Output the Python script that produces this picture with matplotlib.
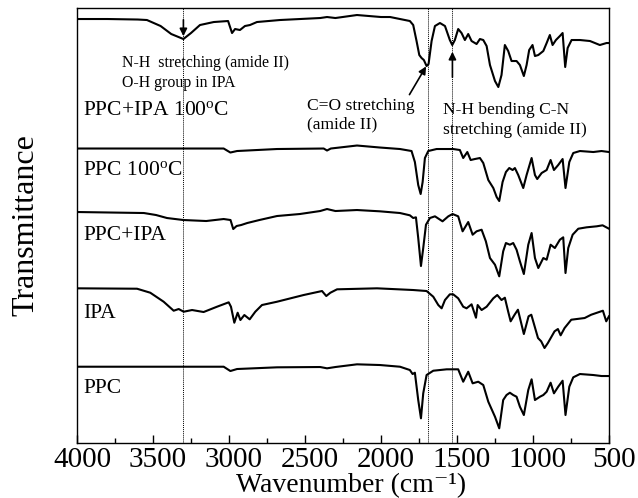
import matplotlib.pyplot as plt
from matplotlib.ticker import MultipleLocator
from matplotlib.transforms import ScaledTranslation

plt.rcParams['font.family'] = ['Liberation Serif', 'DejaVu Serif']
plt.rcParams['mathtext.fontset'] = 'custom'
plt.rcParams['mathtext.rm'] = 'Liberation Serif'
plt.rcParams['mathtext.it'] = 'Liberation Serif:italic'

# FTIR spectra, transmittance (a.u.) relative to each trace's own baseline
wn_ppc_ipa_100 = [4000, 3800, 3600, 3540, 3450, 3380, 3300, 3250, 3191, 3100,
                  3006, 2980, 2960, 2928, 2895, 2862, 2816, 2665, 2400, 2355,
                  2300, 2158, 2000, 1940, 1875, 1810, 1788, 1766, 1748, 1733,
                  1718, 1700, 1687, 1667, 1645, 1612, 1579, 1547, 1531, 1514,
                  1492, 1470, 1448, 1426, 1404, 1371, 1349, 1327, 1305, 1283,
                  1250, 1228, 1207, 1185, 1163, 1141, 1108, 1086, 1060, 1042,
                  1025, 1003, 987, 965, 932, 910, 889, 871, 849, 823,
                  805, 788, 772, 746, 691, 625, 560, 516, 500]
t_ppc_ipa_100 = [0, 0, -0.5, -1, -7, -15, -20, -14, -6, -3,
                 -2, -14, -10, -11, -7, -6, -3, -1, 1, 2,
                 1, 4, 2, 2, 0, -2, -6, -22, -36, -39,
                 -41, -47, -45, -22, -7, -4, -7, -21, -26, -21,
                 -10, -14, -21, -15, -22, -25, -20, -21, -27, -46,
                 -62, -68, -56, -26, -32, -42, -42, -46, -57, -46,
                 -31, -26, -37, -36, -32, -24, -16, -26, -21, -17,
                 -14, -48, -29, -21, -21, -22, -26, -24, -24]

wn_ppc_100 = [4000, 3300, 3035, 2991, 2947, 2684, 2377, 2355, 2330, 2158,
              2007, 1875, 1799, 1777, 1755, 1739, 1726, 1711, 1689, 1634,
              1525, 1481, 1459, 1432, 1410, 1382, 1349, 1327, 1294, 1261,
              1239, 1222, 1200, 1178, 1156, 1134, 1119, 1097, 1064, 1042,
              1009, 987, 972, 943, 910, 884, 862, 834, 805, 786,
              761, 735, 691, 603, 549, 500]
t_ppc_100 = [0.5, 0.5, 0.5, -3.5, -2, 0, 0.5, -1.5, 0.5, 3.5,
             1.5, 0, -2, -13, -36, -45, -33, -9, -2, 0,
             0, -1, -9, -3, -11, -10, -9, -14, -31, -39,
             -48, -52, -33, -23, -19, -21, -19, -26, -39, -26,
             -9, -26, -30, -24, -21, -11, -21, -16, -10, -39,
             -13, -4, -2, -3, -2, -3]

wn_ppc_ipa = [4000, 3560, 3480, 3408, 3300, 3150, 3035, 2990, 2972, 2950,
              2920, 2880, 2800, 2684, 2534, 2400, 2355, 2300, 2158, 2007,
              1875, 1810, 1788, 1770, 1755, 1737, 1722, 1704, 1678, 1645,
              1595, 1557, 1529, 1492, 1463, 1426, 1397, 1371, 1338, 1310,
              1283, 1250, 1222, 1196, 1178, 1152, 1130, 1108, 1086, 1060,
              1031, 1009, 987, 965, 932, 910, 884, 856, 823, 801,
              786, 768, 739, 702, 647, 581, 542, 500]
t_ppc_ipa = [0, -1, -3, -6, -8, -9, -7, -8, -17, -14,
             -13, -11, -8, -4, -2, 1, 3, 1, 2, 0.7,
             -1, -3.3, -6, -5.3, -26, -54, -36, -12.7, -6, -4.3,
             -9.3, -4.3, -2, -4.3, -19.3, -10, -22.7, -19.3, -17.7, -29.3,
             -46, -52.7, -64.3, -39.3, -31, -32.7, -31, -37.7, -49.3, -62,
             -32.7, -21, -46, -56, -46, -47.7, -32.7, -36, -27.7, -25.3,
             -61, -36, -22.7, -16.7, -15.3, -14.3, -13.3, -16.7]

wn_ipa = [4000, 3605, 3518, 3430, 3364, 3331, 3298, 3243, 3167, 3079,
          3002, 2987, 2965, 2943, 2925, 2899, 2864, 2827, 2783, 2684,
          2509, 2388, 2360, 2333, 2289, 2026, 1788, 1700, 1656, 1623,
          1601, 1579, 1547, 1525, 1492, 1459, 1437, 1404, 1375, 1364,
          1338, 1305, 1261, 1235, 1207, 1185, 1163, 1147, 1121, 1099,
          1060, 1029, 1011, 967, 946, 924, 902, 858, 836, 818,
          792, 748, 660, 617, 540, 518, 500]
t_ipa = [0.7, 0.3, -3.7, -12.7, -21.7, -20, -22.7, -21, -23, -17.7,
         -13.3, -17.7, -33.7, -23.7, -31, -26, -30.3, -22.7, -16, -12.7,
         -6, -2, -7, -3.7, -0.3, 0.7, -1, -2, -7.7, -16,
         -19.3, -11, -5.3, -5.3, -9.3, -17.7, -19.3, -15.3, -28.7, -16,
         -21, -17.7, -9.3, -6, -11, -8.7, -22.7, -32.3, -25.7, -20.7,
         -45, -27.3, -25.7, -49, -52.3, -59, -54, -42.3, -40, -46.3,
         -39, -30.7, -29, -25.7, -21.7, -32.3, -27.3]

wn_ppc = [4000, 3035, 2991, 2947, 2684, 2400, 2355, 2300, 2158, 2007,
          1875, 1810, 1792, 1777, 1755, 1737, 1722, 1700, 1656, 1568,
          1492, 1459, 1426, 1397, 1360, 1327, 1294, 1250, 1222, 1196,
          1174, 1152, 1130, 1108, 1086, 1060, 1031, 1009, 987, 954,
          932, 910, 884, 862, 834, 805, 786, 761, 735, 691,
          603, 549, 500]
t_ppc = [-0.7, -0.7, -5, -3, -1.3, -1, -2.3, -1, 1.7, 1,
         -0.7, -4, -8, -6.7, -34, -52.3, -27.3, -9, -4.7, -3.3,
         -3.3, -15.7, -5.7, -17.3, -15.7, -19, -35.7, -50.7, -62.3, -34,
         -29, -26.7, -29, -30.7, -40.7, -49, -24, -13.3, -34, -30.7,
         -29, -25.7, -16.7, -27.3, -20.7, -14.7, -49, -20.7, -11.3, -8,
         -9, -10, -10]

names = ['PPC', 'IPA', 'PPC+IPA', 'PPC 100$^{\\rm o}$C', 'PPC+IPA 100$^{\\rm o}$C']
spectra = [(wn_ppc, t_ppc), (wn_ipa, t_ipa), (wn_ppc_ipa, t_ppc_ipa),
           (wn_ppc_100, t_ppc_100), (wn_ppc_ipa_100, t_ppc_ipa_100)]
offsets = [77, 154, 231, 294, 424]
label_y = [55, 130, 208, 273, 333]

marker_lines = [3300, 1690, 1530]

fig = plt.figure(figsize=(6.38, 4.98), dpi=100)
ax = fig.add_axes([0.1207, 0.1104, 0.8338, 0.8735])

for (wn, t), off in zip(spectra, offsets):
    ax.plot(wn, [off + v for v in t], color='black', lw=1.5)

for name, y in zip(names, label_y):
    ax.text(3960, y, name, fontsize=15.5, va='center', ha='left')

for w in marker_lines:
    ax.axvline(w, color='black', lw=0.7, ls=(0, (1, 1)))

# annotations
ax.text(3705, 380, 'N-H  stretching (amide II)', fontsize=11.4, va='center')
ax.text(3705, 360, 'O-H group in IPA', fontsize=11.4, va='center')
ax.text(2490, 328, 'C=O stretching\n(amide II)', fontsize=12.6, va='center',
        linespacing=1.15)
ax.text(1590, 323, 'N-H bending C-N\nstretching (amide II)', fontsize=12.6,
        va='center', linespacing=1.3)

arrow = dict(arrowstyle='-|>', color='black', lw=1.2, mutation_scale=11)
ax.annotate('', xy=(3300, 404), xytext=(3300, 426), arrowprops=arrow)
ax.annotate('', xy=(1694, 379), xytext=(1822, 346), arrowprops=arrow)
ax.annotate('', xy=(1530, 394), xytext=(1530, 363), arrowprops=arrow)

ax.set_xlim(4000, 500)
ax.set_ylim(0, 435)
ax.xaxis.set_major_locator(MultipleLocator(500))
ax.xaxis.set_minor_locator(MultipleLocator(250))
ax.tick_params(axis='x', which='both', direction='in', top=False, labelsize=21, pad=3)
ax.tick_params(axis='x', which='major', length=6, width=1)
ax.tick_params(axis='x', which='minor', length=3.5, width=1)
ax.set_yticks([])
for s in ax.spines.values():
    s.set_linewidth(1.0)

# tick labels sit a little right of their ticks
shift = ScaledTranslation(5 / 100, 0, fig.dpi_scale_trans)
for lab in ax.get_xticklabels():
    lab.set_transform(lab.get_transform() + shift)

fig.text(351 / 638, 6 / 498, 'Wavenumber (cm\u207b\u00b9)', fontsize=20,
         ha='center', va='baseline')
ax.set_ylabel('Transmittance', fontsize=23, labelpad=26)

fig.savefig('out.png', dpi=100)
